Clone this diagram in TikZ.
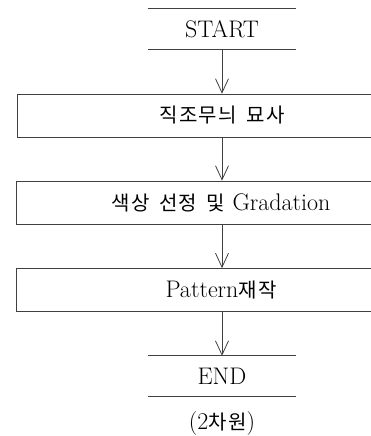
\documentclass[tikz,border=0pt]{standalone}
\usepackage{fontspec}
\newfontfamily\kr[LetterSpace=6]{Noto Sans CJK KR}
\usetikzlibrary{arrows.meta}
\newcommand\krtext[1]{{\fontsize{20}{24}\selectfont\kr #1}}
\begin{document}
\begin{tikzpicture}[x=1pt,y=-1pt,
  ln/.style={line width=0.7pt, draw=black!75},
  boxnode/.style={ln, draw, minimum width=410pt, minimum height=43pt, inner sep=0pt},
  termnode/.style={minimum width=147pt, minimum height=40pt, inner sep=0pt},
  arr/.style={ln, -{Straight Barb[length=14pt,width=13pt,line width=0.8pt]}},
  lbl/.style={font=\fontsize{24}{28}\selectfont}]
\useasboundingbox (0,0) rectangle (371,436);
\clip (0,0) rectangle (371,436);
\node[termnode, lbl] (s) at (222,29) {START};
\draw[ln] (s.north west) -- (s.north east);
\draw[ln] (s.south west) -- (s.south east);
\node[boxnode, lbl] (b1) at (222,115.5) {\krtext{직조무늬\hspace{4pt} 묘사}};
\node[boxnode, lbl] (b2) at (221,202.5) {\krtext{색상\hspace{4pt} 선정\hspace{4pt} 및} Gradation};
\node[boxnode, lbl] (b3) at (221,290) {Pattern\krtext{재작}};
\node[termnode, lbl] (e) at (222,376) {END};
\draw[ln] (e.north west) -- (e.north east);
\draw[ln] (e.south west) -- (e.south east);
\node[lbl] (cap) at (222,424) {(2\krtext{차원})};
\draw[arr] (s.south) -- (s.south |- b1.north);
\draw[arr] (s.south |- b1.south) -- (s.south |- b2.north);
\draw[arr] (s.south |- b2.south) -- (s.south |- b3.north);
\draw[arr] (s.south |- b3.south) -- (e.north);
\end{tikzpicture}
\end{document}
